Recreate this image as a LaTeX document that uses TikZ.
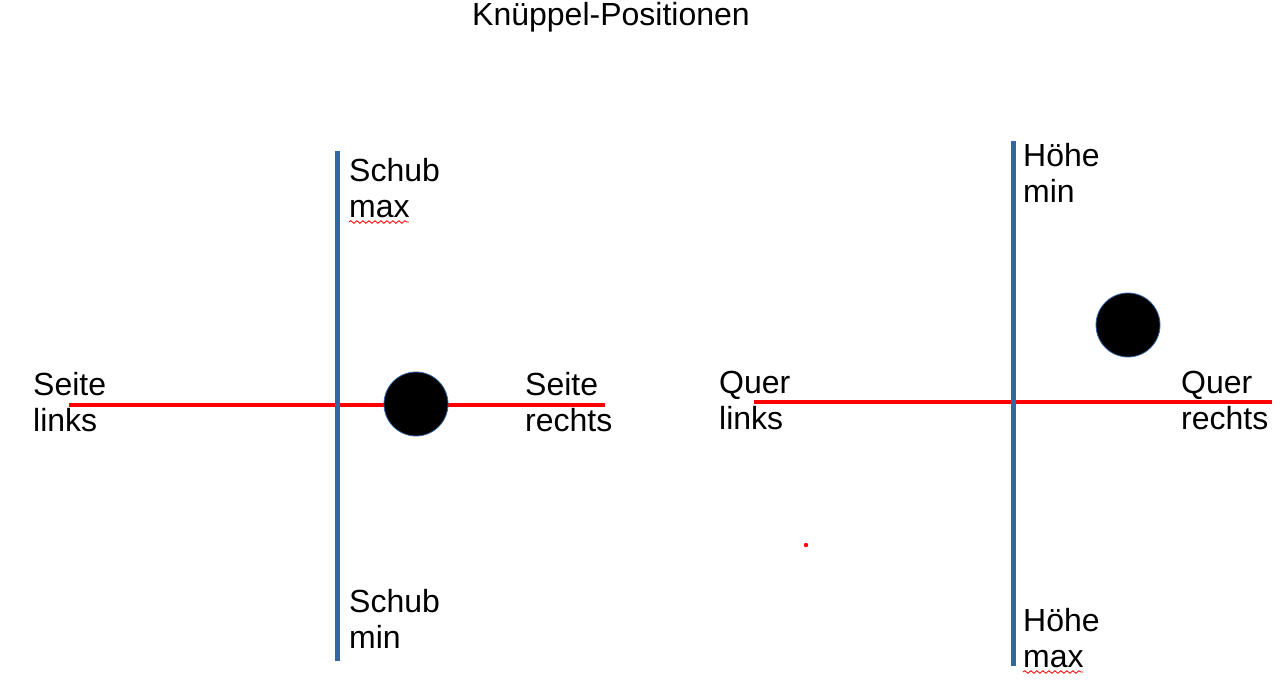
\documentclass[tikz,border=0pt]{standalone}
\usepackage{fontspec}
\setmainfont{Liberation Sans}
\usetikzlibrary{positioning,decorations.pathmorphing}

\tikzset{
  senkrecht/.style={draw={rgb,255:red,52;green,101;blue,164}, line width=5pt},
  waagrecht/.style={draw=red, line width=4.5pt},
  knueppel/.style={circle, fill=black, draw={rgb,255:red,52;green,101;blue,164}, line width=0.8pt, minimum size=64pt, inner sep=0pt},
  beschriftung/.style={anchor=base west, align=left, inner sep=0pt, font=\fontsize{32}{36}\selectfont},
  kringel/.style={draw=red, line width=0.8pt, decorate, decoration={snake, amplitude=1.3pt, segment length=6pt}}
}

\begin{document}
\begin{tikzpicture}[x=1pt,y=-1pt]
	\useasboundingbox (0,0) rectangle (1281,682);
	\node[beschriftung] (titel) at (472,26) {Knüppel-Positionen};
	
	% linker Knueppel
	\draw[waagrecht] (69,405) -- (605,405);
	\draw[senkrecht] (337,151) -- (337,661);
	\node[knueppel] (links) at (416,404) {};
	\node[beschriftung] (schubmax) at (349,217) {Schub\\max};
	\node[beschriftung] (schubmin) at (349,648) {Schub\\min};
	\node[beschriftung] (seitel) at (33,431) {Seite\\links};
	\node[beschriftung] (seiter) at (525,431) {Seite\\rechts};
	\draw[kringel] (349,222) -- (409,222);
	
	% rechter Knueppel
	\draw[waagrecht] (754,402) -- (1272,402);
	\draw[senkrecht] (1013,141) -- (1013,666);
	\node[knueppel] (rechts) at (1128,325) {};
	\node[beschriftung] (hoehemin) at (1023,202) {Höhe\\min};
	\node[beschriftung] (hoehemax) at (1023,667) {Höhe\\max};
	\node[beschriftung] (querl) at (719,429) {Quer\\links};
	\node[beschriftung] (querr) at (1181,429) {Quer\\rechts};
	\draw[kringel] (1023,672) -- (1083,672);
	
	\fill[red] (806,545) circle(2.2);
\end{tikzpicture}
\end{document}
